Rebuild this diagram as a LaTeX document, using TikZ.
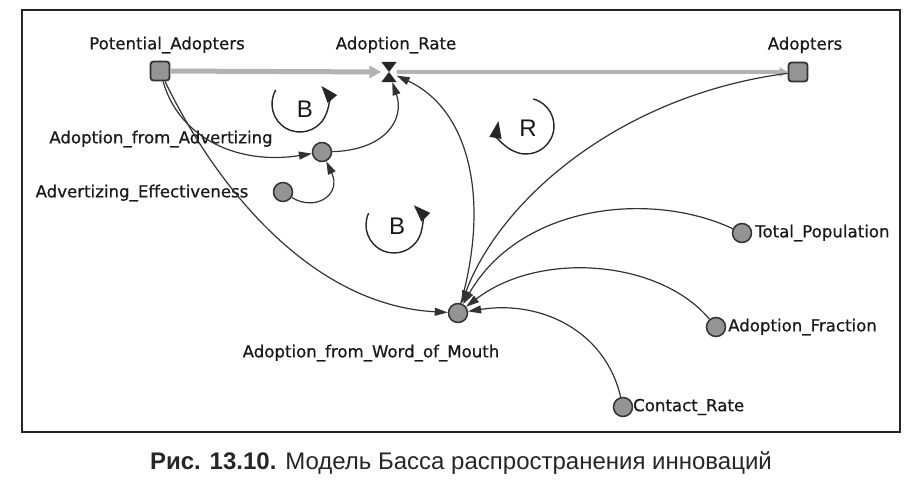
\documentclass[tikz,border=0pt]{standalone}
\usepackage{fontspec}
\setmainfont{Liberation Sans}
\newfontfamily\lblfont[FakeBold=0.6]{DejaVu Sans}
\usetikzlibrary{arrows.meta}
\begin{document}
\begin{tikzpicture}[x=1pt,y=1pt,
  stock/.style={draw=black!80, fill=black!42, line width=1.8pt, rounded corners=3pt, minimum size=19pt, inner sep=0pt},
  aux/.style={circle, draw=black!80, fill=black!42, line width=1.5pt, minimum size=19pt, inner sep=0pt},
  lbl/.style={font=\lblfont\fontsize{16.6}{18}\selectfont, inner sep=0pt, text=black!90},
  link/.style={draw=black!80, line width=1.2pt, -{Triangle[length=13pt,width=8pt]}},
  flowpipe/.style={draw=black!30, line width=5pt},
  loopmark/.style={draw=black!85, line width=1.4pt, -{Triangle[length=17pt,width=12pt]}},
  looplbl/.style={font=\fontsize{24}{26}\selectfont, inner sep=0pt, text=black!90}]

\useasboundingbox (0,0) rectangle (916,-488);
\fill[white] (0,0) rectangle (916,-488);
\draw[black!85, line width=1.6pt] (22,-10) rectangle (900,-432);

% stocks, valve, auxiliaries
\node[stock] (pa) at (160,-71) {};
\node[stock] (ad) at (798,-72) {};
\node[minimum width=15pt, minimum height=20pt, inner sep=0pt] (ar) at (389,-72) {};
\fill[black!85] (ar.north west) -- (ar.north east) -- (ar.center) -- cycle;
\fill[black!85] (ar.south west) -- (ar.south east) -- (ar.center) -- cycle;

\node[aux] (afa) at (322,-152) {};
\node[aux] (ae) at (283,-192) {};
\node[aux] (wom) at (458,-313) {};
\node[aux] (tp) at (742,-233) {};
\node[aux] (af) at (716,-327) {};
\node[aux] (cr) at (623,-407) {};

% labels
\node[lbl] (lpa) at (167,-45) {Potential\_Adopters};
\node[lbl] (lar) at (396,-45) {Adoption\_Rate};
\node[lbl] (lad) at (805,-45) {Adopters};
\node[lbl] (lafa) at (161,-139) {Adoption\_from\_Advertizing};
\node[lbl] (lae) at (142,-193) {Advertizing\_Effectiveness};
\node[lbl] (lwom) at (371,-353) {Adoption\_from\_Word\_of\_Mouth};
\node[lbl, anchor=west] (ltp) at (755,-233) {Total\_Population};
\node[lbl, anchor=west] (laf) at (728,-327) {Adoption\_Fraction};
\node[lbl, anchor=west] (lcr) at (633,-407) {Contact\_Rate};

% flows
\draw[flowpipe, -{Triangle[length=12pt,width=12pt]}] (pa) -- (ar);
\draw[flowpipe, line width=4pt, -{Triangle[length=8pt,width=9pt]}] (ar) -- (ad);

% links
\draw[link] (pa) .. controls (180,-140) and (240,-165) .. (afa);
\draw[link] (pa) .. controls (215,-185) and (310,-305) .. (wom);
\draw[link] (afa) .. controls (385,-150) and (405,-120) .. (ar);
\draw[link] (ae) .. controls (315,-212) and (342,-195) .. (afa);
\draw[link] (wom) .. controls (490,-200) and (470,-110) .. (ar);
\draw[link] (ad) .. controls (620,-95) and (500,-200) .. (wom);
\draw[link] (tp) .. controls (650,-190) and (520,-205) .. (wom);
\draw[link] (af) .. controls (660,-260) and (540,-250) .. (wom);
\draw[link] (cr) .. controls (605,-330) and (540,-300) .. (wom);

% loop markers
\coordinate (b1) at (300,-104);
\draw[loopmark] ([shift={(150:28)}]b1) arc[start angle=150, end angle=400, radius=28];
\node[looplbl] (lb1) at (305,-109) {B};
\coordinate (r1) at (526,-126);
\draw[loopmark] ([shift={(75:28)}]r1) arc[start angle=75, end angle=-190, radius=28];
\node[looplbl] (lr1) at (528,-128) {R};
\coordinate (b2) at (394,-225);
\draw[loopmark] ([shift={(155:28)}]b2) arc[start angle=155, end angle=405, radius=28];
\node[looplbl] (lb2) at (397,-226) {B};

% caption
\node[font=\fontsize{24}{27}\selectfont, text=black!85, inner sep=0pt] (cap) at (461,-463)
  {\textbf{Рис. 13.10.} Модель Басса распространения инноваций};
\end{tikzpicture}
\end{document}
